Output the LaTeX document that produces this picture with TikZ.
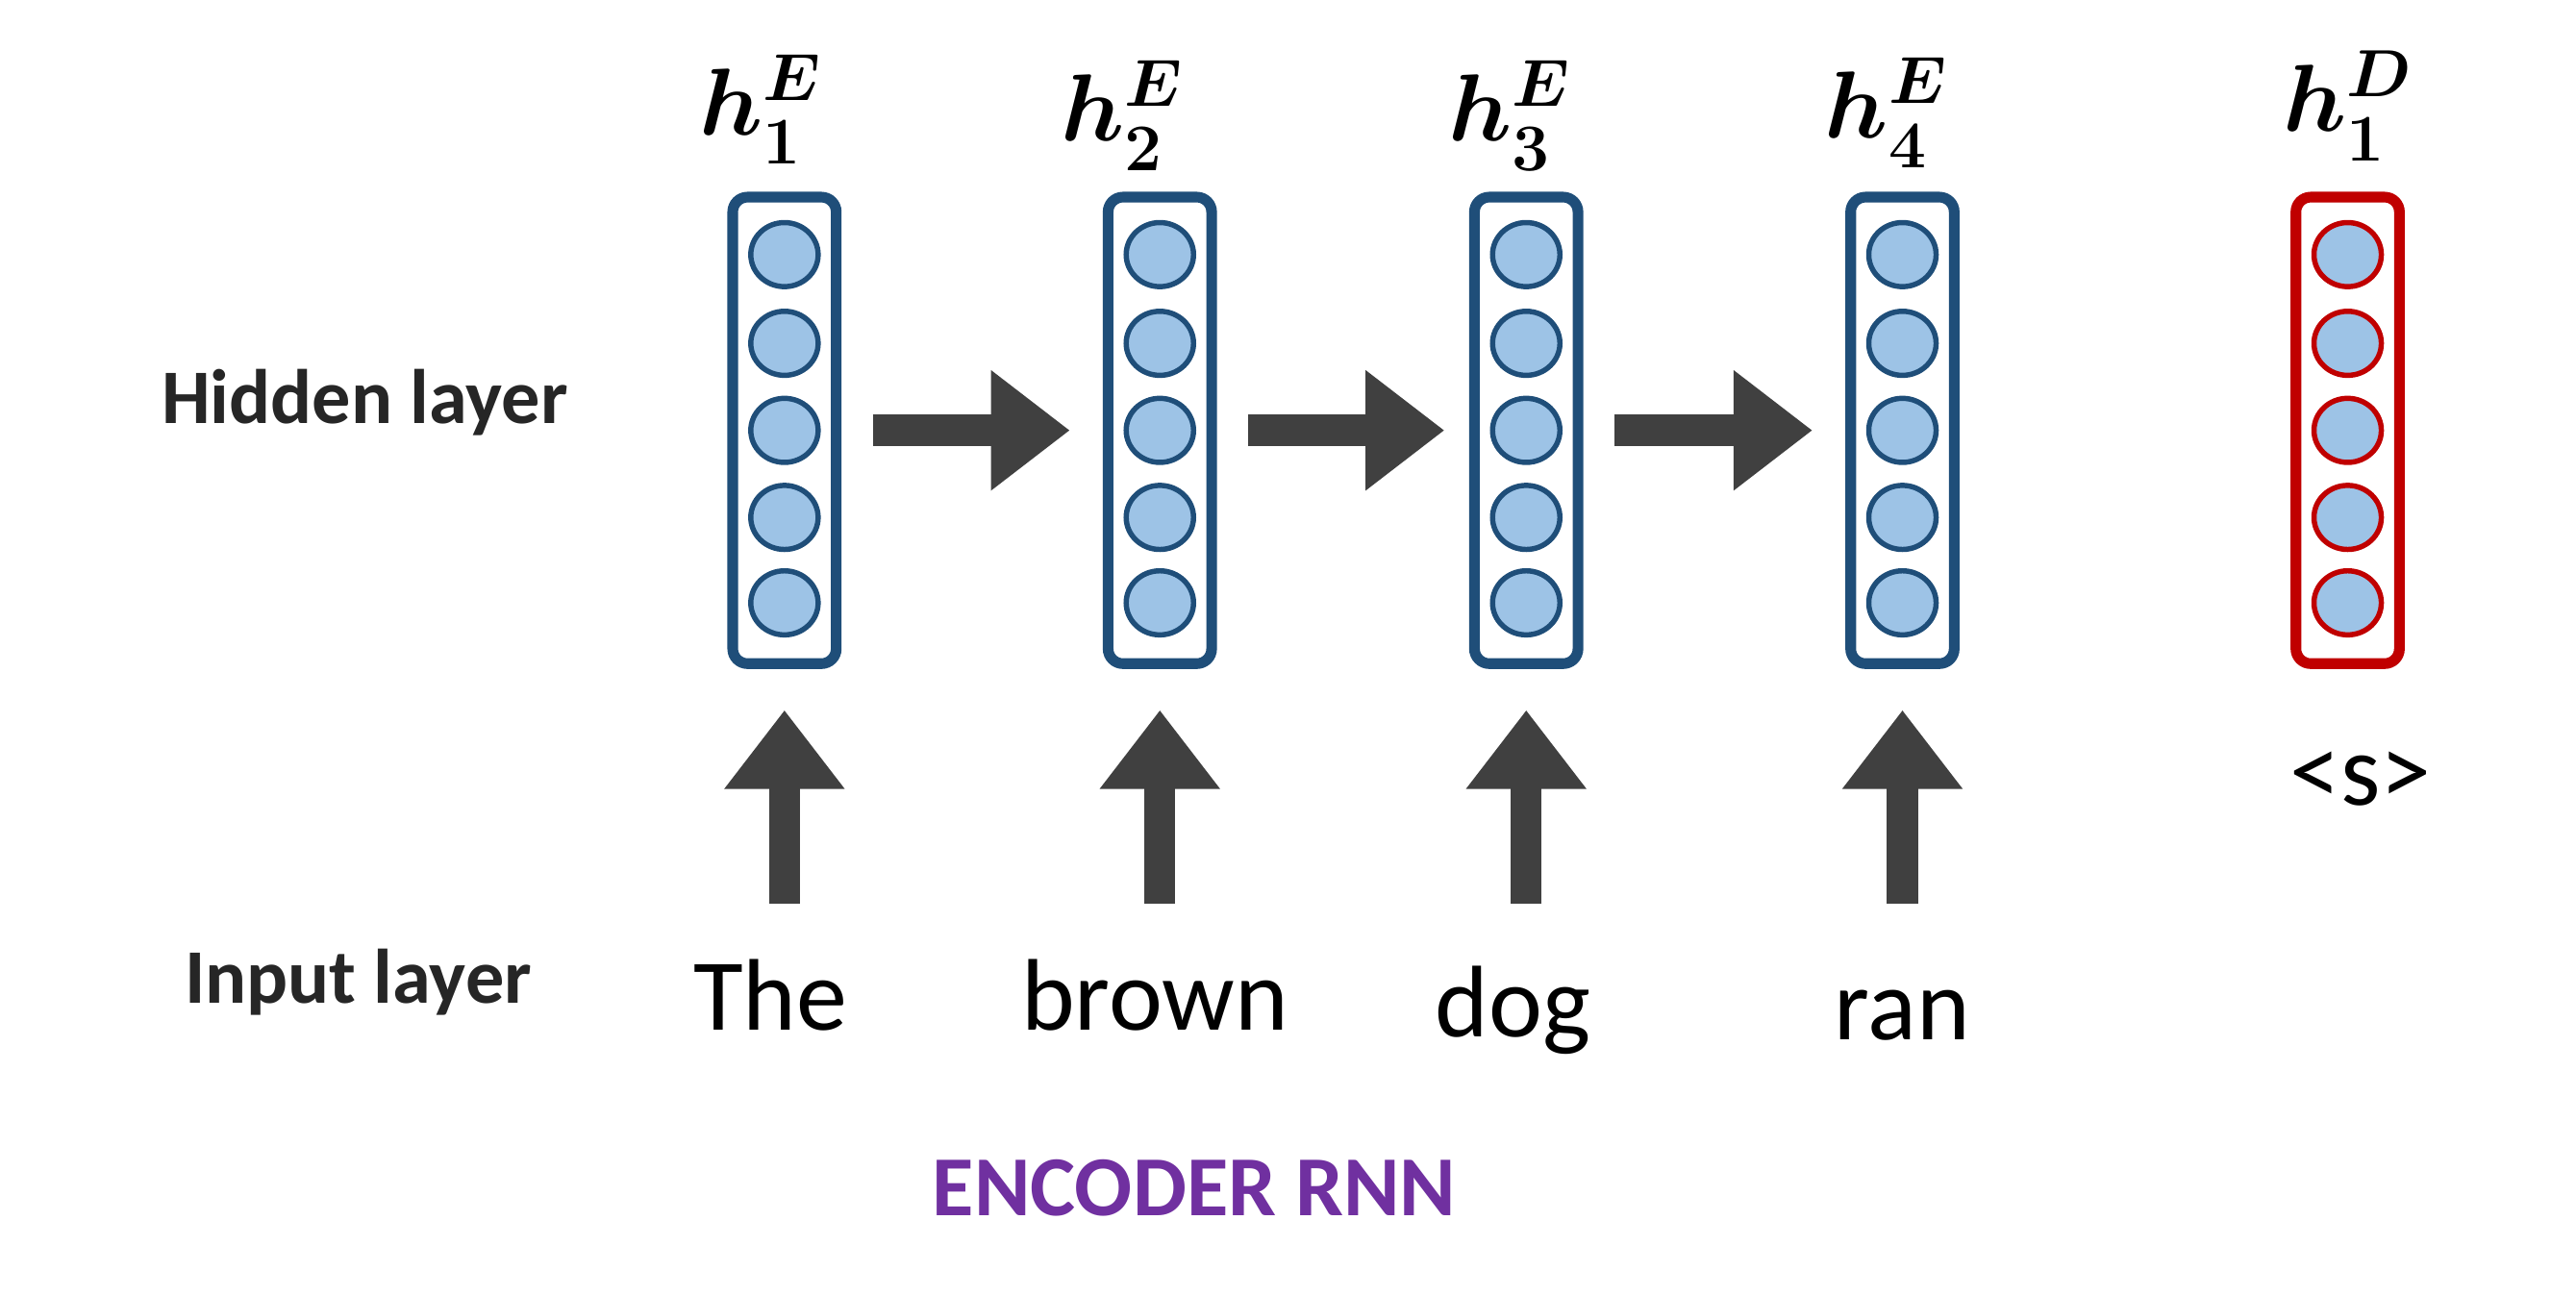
\RequirePackage{fix-cm}
\documentclass[tikz,border=0pt]{standalone}
\usepackage{fontspec}
\setmainfont{Carlito}
\usetikzlibrary{arrows.meta,shapes.geometric}
\definecolor{encblue}{HTML}{1F4E79}
\definecolor{unitfill}{HTML}{9DC3E6}
\definecolor{decred}{HTML}{C00000}
\definecolor{arrowgray}{HTML}{404040}
\definecolor{encpurple}{HTML}{7030A0}
\definecolor{labelgray}{HTML}{262626}
\begin{document}
\begin{tikzpicture}[x=1pt,y=-1pt,
  layerbox/.style={draw=encblue, line width=6.5pt, rounded corners=9pt, minimum width=63pt, minimum height=284pt, inner sep=0pt, fill=white},
  decbox/.style={layerbox, draw=decred},
  unit/.style={ellipse, draw=encblue, fill=unitfill, line width=3.2pt, minimum width=41pt, minimum height=39pt, inner sep=0pt},
  decunit/.style={unit, draw=decred},
  blockarrow/.style={draw=arrowgray, line width=19pt, -{Triangle[length=48pt,width=70pt]}},
  word/.style={font=\fontsize{62}{70}\selectfont, anchor=base, text=black, inner sep=0pt},
  sidelabel/.style={font=\fontsize{47}{54}\selectfont\bfseries, anchor=base, text=labelgray, inner sep=0pt},
  hlabel/.style={font=\fontsize{58}{62}\selectfont\boldmath, anchor=base, inner sep=0pt}]
\useasboundingbox (0,0) rectangle (1568,788);

% hidden state boxes
\node[layerbox] (b1) at (477.5,262) {};
\node[layerbox] (b2) at (706,262) {};
\node[layerbox] (b3) at (929,262) {};
\node[layerbox] (b4) at (1158,262) {};
\node[decbox] (d1) at (1429,262) {};

\foreach \bx/\cx in {b1/477.5,b2/706,b3/929,b4/1158}{
  \foreach \cy [count=\i] in {155,209,262,315,367}{
    \node[unit] (\bx u\i) at (\cx,\cy) {};
  }
}
\foreach \cy [count=\i] in {155,209,262,315,367}{
  \node[decunit] (d1u\i) at (1429,\cy) {};
}

% labels above
\node[hlabel] (l1) at (463,82) {$h_1^E$};
\node[hlabel] (l2) at (683,86) {$h_2^E$};
\node[hlabel] (l3) at (919,86) {$h_3^E$};
\node[hlabel] (l4) at (1148,84) {$h_4^E$};
\node[hlabel] (l5) at (1429,80) {$h_1^D$};

% horizontal arrows
\draw[blockarrow] ([xshift=19pt]b1.east) -- ([xshift=-20pt]b2.west);
\draw[blockarrow] ([xshift=19pt]b2.east) -- ([xshift=-15pt]b3.west);
\draw[blockarrow] ([xshift=19pt]b3.east) -- ([xshift=-20pt]b4.west);

% input words
\node[word] (w1) at (469,627) {The};
\node[word] (w2) at (703,627) {brown};
\node[word] (w3) at (921,631) {dog};
\node[word] (w4) at (1158,633) {ran};
\node[word] (w5) at (1437,490) {<s>};

% vertical arrows
\coordinate (v1) at (477.5,550);
\coordinate (v2) at (706,550);
\coordinate (v3) at (929,550);
\coordinate (v4) at (1158,550);
\draw[blockarrow] (v1) -- ([yshift=-25pt]b1.south);
\draw[blockarrow] (v2) -- ([yshift=-25pt]b2.south);
\draw[blockarrow] (v3) -- ([yshift=-25pt]b3.south);
\draw[blockarrow] (v4) -- ([yshift=-25pt]b4.south);

% side labels
\node[sidelabel] (hl) at (222,258) {Hidden layer};
\node[sidelabel] (il) at (218,611) {Input layer};
\node[font=\fontsize{52}{58}\selectfont\bfseries, anchor=base, text=encpurple, inner sep=0pt] (enc) at (727,740) {ENCODER RNN};
\end{tikzpicture}
\end{document}
